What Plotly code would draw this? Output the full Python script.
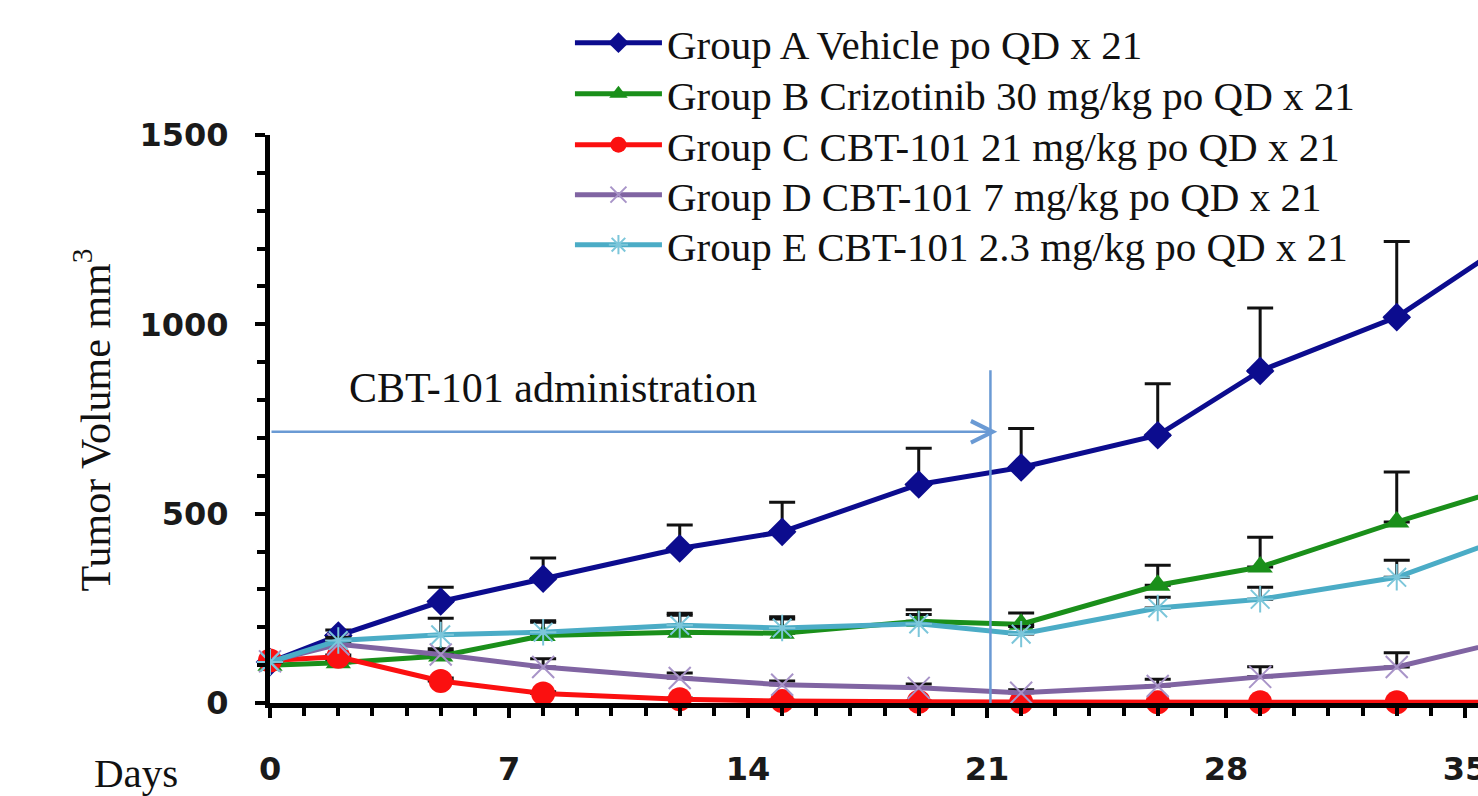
import plotly.graph_objects as go

days = [0, 2, 5, 8, 12, 15, 19, 22, 26, 29, 33, 36]

group_names = [
    "Group A Vehicle po QD x 21",
    "Group B Crizotinib 30 mg/kg po QD x 21",
    "Group C CBT-101 21 mg/kg po QD x 21",
    "Group D CBT-101 7 mg/kg po QD x 21",
    "Group E CBT-101 2.3 mg/kg po QD x 21",
]

vol_a = [108, 178, 268, 328, 408, 452, 577, 622, 707, 877, 1019, 1200]
err_a = [8, 15, 38, 55, 62, 78, 96, 103, 136, 166, 200, 220]

vol_b = [100, 106, 124, 178, 187, 184, 216, 208, 311, 359, 478, 561]
err_b = [5, 8, 12, 35, 45, 38, 30, 30, 53, 79, 132, 150]

vol_c = [112, 122, 58, 25, 10, 5, 3, 2, 2, 2, 2, 2]
err_c = [5, 5, 8, 5, 3, 2, 2, 2, 2, 2, 2, 2]

vol_d = [110, 155, 128, 95, 66, 48, 40, 27, 45, 69, 95, 160]
err_d = [5, 8, 15, 22, 13, 10, 10, 8, 18, 27, 38, 40]

vol_e = [108, 165, 180, 187, 205, 198, 209, 182, 251, 274, 332, 430]
err_e = [5, 8, 44, 30, 32, 30, 25, 20, 28, 32, 45, 50]

x_ticks = [0, 7, 14, 21, 28, 35]
y_ticks = [0, 500, 1000, 1500]

dose_end_day = 21
arrow_level = 716
vline_top = 879

series = [
    (group_names[0], vol_a, err_a, "#0c0c8e", dict(symbol="diamond", size=22, color="#0c0c8e")),
    (group_names[1], vol_b, err_b, "#1a8f1a", dict(symbol="triangle-up", size=22, color="#1a8f1a")),
    (group_names[2], vol_c, err_c, "#fb1010", dict(symbol="circle", size=24, color="#fb1010")),
    (group_names[3], vol_d, err_d, "#8064a2",
     dict(symbol="x-thin", size=22, color="#a894c8", line=dict(color="#a894c8", width=2))),
    (group_names[4], vol_e, err_e, "#4bacc6",
     dict(symbol="asterisk", size=22, color="#7cc6da", line=dict(color="#7cc6da", width=2))),
]

legend_ids = ["legend", "legend2", "legend3", "legend4", "legend5"]

fig = go.Figure()
for (name, vals, errs, col, mk), lid in zip(series, legend_ids):
    fig.add_trace(go.Scatter(
        x=days, y=vals, name=name, mode="lines+markers",
        line=dict(color=col, width=5),
        marker=mk,
        error_y=dict(type="data", array=errs, symmetric=False, arrayminus=[0] * len(errs),
                     color="#111111", thickness=3, width=13),
        cliponaxis=False,
        legend=lid,
    ))

# administration arrow and end-of-dosing line
fig.add_annotation(x=dose_end_day + 0.3, y=arrow_level, ax=0, ay=arrow_level,
                   xref="x", yref="y", axref="x", ayref="y", text="",
                   showarrow=True, arrowhead=5, arrowsize=1.7, arrowwidth=2.5,
                   arrowcolor="#6a9ad4")
fig.add_shape(type="line", x0=dose_end_day + 0.1, x1=dose_end_day + 0.1, y0=0, y1=vline_top,
              xref="x", yref="y", line=dict(color="#6a9ad4", width=2.5))
fig.add_annotation(x=8.3, y=832, xref="x", yref="y", text="CBT-101 administration",
                   showarrow=False, xanchor="center", yanchor="middle",
                   font=dict(family="Liberation Serif", size=42, color="#111111"))

fig.add_annotation(x=-0.147, y=0.498, xref="paper", yref="paper", textangle=-90,
                   text="Tumor Volume mm<sup>3</sup>", showarrow=False,
                   xanchor="center", yanchor="middle",
                   font=dict(family="Liberation Serif", size=42, color="#111111"))
fig.add_annotation(x=-0.111, y=-0.1232, xref="paper", yref="paper", text="Days",
                   showarrow=False, xanchor="center", yanchor="middle",
                   font=dict(family="Liberation Serif", size=41, color="#111111"))

tickfont = dict(family="DejaVu Sans", size=32, color="#1a1a1a", weight="bold")

fig.update_xaxes(range=[0, 35.38], tickvals=x_ticks, showgrid=False, zeroline=False,
                 showline=True, linewidth=5, linecolor="black", automargin=False,
                 ticks="outside", ticklen=10, tickwidth=4, tickcolor="black",
                 tickfont=tickfont, ticklabelstandoff=24, ticklabeloverflow="allow",
                 minor=dict(dtick=1, tick0=0, ticks="outside", ticklen=8, tickwidth=4,
                            tickcolor="black", showgrid=False))
fig.update_yaxes(range=[0, 1500], tickvals=y_ticks, showgrid=False, zeroline=False,
                 showline=True, linewidth=5, linecolor="black", automargin=False,
                 ticks="outside", ticklen=10, tickwidth=4, tickcolor="black",
                 tickfont=tickfont, ticklabelstandoff=20,
                 minor=dict(dtick=100, tick0=0, ticks="outside", ticklen=8, tickwidth=4,
                            tickcolor="black", showgrid=False))

legend_rows_px = [43, 94, 145, 195, 245]
legend_left = 0.2483
layout_legends = {}
for lid, row in zip(legend_ids, legend_rows_px):
    layout_legends[lid] = dict(
        x=legend_left, y=(703 - row) / 568, xanchor="left", yanchor="middle",
        font=dict(family="Liberation Serif", size=41, color="#111111"),
        bgcolor="rgba(0,0,0,0)", itemwidth=87,
    )

fig.update_layout(
    width=1478, height=796,
    margin=dict(l=270, r=0, t=135, b=93, autoexpand=False),
    paper_bgcolor="white", plot_bgcolor="white",
    showlegend=True,
    **layout_legends,
)

fig.write_html("out.html")
